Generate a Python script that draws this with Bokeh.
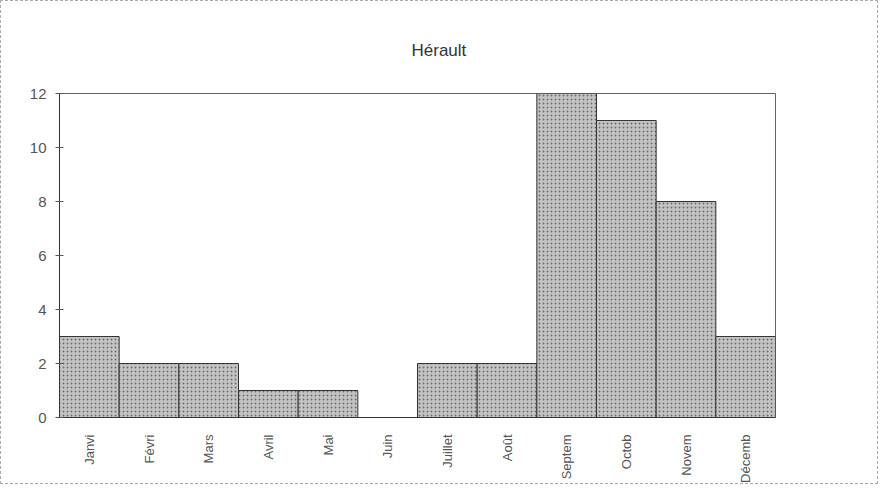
from bokeh.plotting import figure
from bokeh.models import FixedTicker, Range1d, FactorRange, Title
from bokeh.embed import file_html
from bokeh.resources import INLINE

months = ["Janvi", "Févri", "Mars", "Avril", "Mai", "Juin",
          "Juillet", "Août", "Septem", "Octob", "Novem", "Décemb"]
values = [3, 2, 2, 1, 1, 0, 2, 2, 12, 11, 8, 3]
y_ticks = [0, 2, 4, 6, 8, 10, 12]

FONT = "Liberation Sans"

p = figure(x_range=FactorRange(*months), y_range=Range1d(0, 12),
           width=878, height=484, output_backend="svg", toolbar_location=None,
           min_border_left=58, min_border_right=104,
           min_border_top=92, min_border_bottom=68)

p.vbar(x=months, top=values, width=1.0, fill_color="#c4c4c4",
       hatch_pattern="dot", hatch_color="#6f6f6f", hatch_scale=4, hatch_weight=1,
       line_color="#333333", line_width=1)

spacer = Title(text=" ", text_font=FONT, text_font_size="15px")
title = Title(text="Hérault", align="left", offset=352, text_font=FONT,
              text_font_size="17px", text_font_style="normal", text_color="#333333")
p.above = [spacer, title]

p.xgrid.visible = False
p.ygrid.visible = False
p.x_range.range_padding = 0

p.yaxis.ticker = FixedTicker(ticks=y_ticks)
p.yaxis.major_tick_in = 4
p.yaxis.major_tick_out = 4
p.yaxis.minor_tick_line_color = None
p.yaxis.axis_line_color = "#333333"
p.yaxis.major_tick_line_color = "#555555"
p.yaxis.major_label_text_font = FONT
p.yaxis.major_label_text_font_size = "15px"
p.yaxis.major_label_text_color = "#555555"
p.yaxis.major_label_standoff = 9

p.xaxis.major_label_orientation = 1.5708
p.xaxis.major_tick_line_color = None
p.xaxis.axis_line_color = "#333333"
p.xaxis.major_label_text_font = FONT
p.xaxis.major_label_text_font_size = "13px"
p.xaxis.major_label_text_color = "#555555"
p.xaxis.major_label_standoff = 11

p.outline_line_color = "#666666"
p.outline_line_width = 1
p.background_fill_color = "white"
p.border_fill_color = "white"
p.styles = {"border": "1px dashed #aaaaaa"}

open("out.html", "w").write(file_html(p, INLINE))
